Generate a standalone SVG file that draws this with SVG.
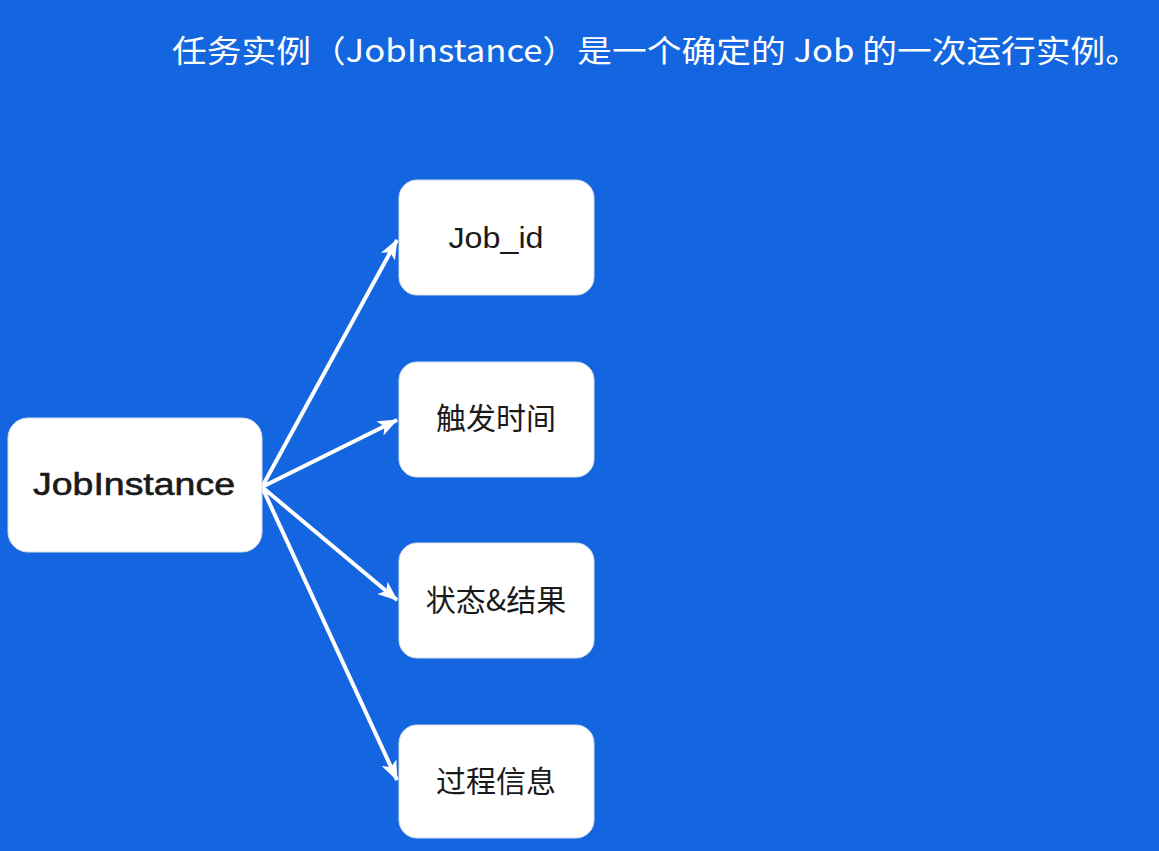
<svg xmlns="http://www.w3.org/2000/svg" width="1159" height="851" viewBox="0 0 1159 851">
<defs>
<style>
.box{fill:#ffffff;stroke:#d8dde6;stroke-width:1}
.lbl{font-family:"Noto Sans CJK SC",sans-serif;fill:#1a1a1a;text-anchor:middle}
.lat{font-family:"Liberation Sans","Noto Sans CJK SC",sans-serif;fill:#1a1a1a;text-anchor:middle}
.conn{stroke:#ffffff;stroke-width:4;fill:none}
</style>
<marker id="ah" viewBox="0 0 20 16" refX="19" refY="8" markerWidth="20" markerHeight="16" markerUnits="userSpaceOnUse" orient="auto">
<path d="M0,0 L20,8 L0,16 L5,8 Z" fill="#ffffff"/>
</marker>
</defs>
<rect x="0" y="0" width="1159" height="851" fill="#1466E0"/>
<text x="172" y="62" font-family="'Noto Sans CJK SC',sans-serif" font-size="31" fill="#ffffff" textLength="968" lengthAdjust="spacingAndGlyphs">任务实例（JobInstance）是一个确定的 Job 的一次运行实例。</text>
<g id="connectors">
<line class="conn" x1="262" y1="487" x2="397" y2="240" marker-end="url(#ah)"/>
<line class="conn" x1="262" y1="487" x2="397" y2="420" marker-end="url(#ah)"/>
<line class="conn" x1="262" y1="487" x2="397" y2="600" marker-end="url(#ah)"/>
<line class="conn" x1="262" y1="487" x2="397" y2="780" marker-end="url(#ah)"/>
</g>
<g id="jobinstance">
<rect class="box" x="8" y="418" width="254" height="134" rx="20"/>
<text class="lat" x="134" y="495" font-size="31" stroke="#1a1a1a" stroke-width="0.6" textLength="202" lengthAdjust="spacingAndGlyphs">JobInstance</text>
</g>
<g id="job_id">
<rect class="box" x="399" y="180" width="195" height="115" rx="18"/>
<text class="lat" x="496" y="248" font-size="30" textLength="95" lengthAdjust="spacingAndGlyphs">Job_id</text>
</g>
<g id="trigger_time">
<rect class="box" x="399" y="362" width="195" height="115" rx="18"/>
<text class="lbl" x="496" y="429" font-size="30">触发时间</text>
</g>
<g id="status_result">
<rect class="box" x="399" y="543" width="195" height="115" rx="18"/>
<text class="lbl" x="496" y="611" font-size="30">状态&amp;结果</text>
</g>
<g id="process_info">
<rect class="box" x="399" y="725" width="195" height="113" rx="18"/>
<text class="lbl" x="496" y="792" font-size="30">过程信息</text>
</g>
</svg>
